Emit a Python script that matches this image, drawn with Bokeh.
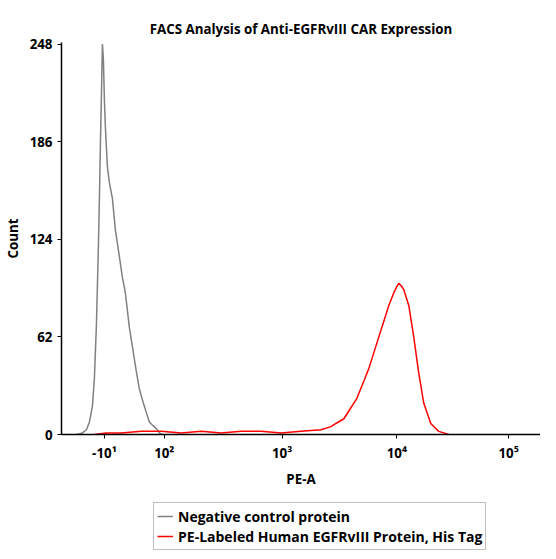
from bokeh.plotting import figure
from bokeh.layouts import column
from bokeh.models import Range1d, FixedTicker, Legend, LegendItem
from bokeh.embed import file_html
from bokeh.resources import INLINE

# x in display units (biexponential scale), y = count
tick_pos = [43, 103, 221, 336, 448]
tick_labels = ["-10\u00b9", "10\u00b2", "10\u00b3", "10\u2074", "10\u2075"]

neg_x = [15, 21, 25, 28, 31, 33, 35, 37, 38, 39, 40, 41, 42, 43, 44, 46, 48, 51, 54, 58, 61, 64, 68, 72, 75, 78, 82, 86, 88, 91, 93, 96, 98, 101]
neg_y = [0, 1, 3, 8, 18, 36, 70, 120, 150, 185, 215, 248, 238, 212, 195, 170, 160, 150, 130, 113, 100, 90, 68, 52, 40, 29, 20, 12, 8, 6, 5, 3, 1, 0]

pos_x = [33, 45, 60, 80, 100, 120, 140, 160, 180, 200, 220, 240, 260, 270, 275, 283, 290, 296, 303, 308, 313, 318, 323, 328, 333, 336, 338, 341, 343, 348, 353, 356, 358, 363, 370, 378, 388]
pos_y = [0, 1, 1, 2, 2, 1, 2, 1, 2, 2, 1, 2, 3, 5, 7, 10, 17, 23, 34, 42, 52, 62, 72, 82, 90, 94, 96, 94, 92, 82, 62, 48, 39, 20, 7, 2, 0]

legend_labels = ["Negative control protein", "PE-Labeled Human EGFRvIII Protein, His Tag"]
colors = ["#808080", "#ff0000"]

FONT = "Open Sans"

p = figure(width=540, height=490, output_backend="svg", toolbar_location=None,
           x_range=Range1d(0, 480), y_range=Range1d(0, 249),
           title="FACS Analysis of Anti-EGFRvIII CAR Expression",
           x_axis_label="PE-A", y_axis_label="Count",
           min_border_left=20, min_border_right=0, min_border_bottom=10,
           min_border_top=42)
p.title.align = "center"
p.title.text_font = FONT
p.title.text_font_size = "10pt"
p.title.text_font_style = "bold"
p.title.text_color = "black"

p.line(neg_x, neg_y, line_color=colors[0], line_width=1.5)
p.line(pos_x, pos_y, line_color=colors[1], line_width=1.5)

p.xgrid.visible = False
p.ygrid.visible = False
p.outline_line_color = None

p.xaxis.ticker = FixedTicker(ticks=tick_pos)
p.xaxis.major_label_overrides = {t: l for t, l in zip(tick_pos, tick_labels)}
p.yaxis.ticker = FixedTicker(ticks=[0, 62, 124, 186, 248])
for ax in (p.xaxis, p.yaxis):
    ax.axis_line_width = 1.5
    ax.major_label_text_font = FONT
    ax.major_label_text_font_style = "bold"
    ax.major_label_text_font_size = "10pt"
    ax.axis_label_text_font = FONT
    ax.axis_label_text_font_style = "bold"
    ax.axis_label_text_font_size = "10pt"
    ax.major_label_text_color = "black"
    ax.axis_label_text_color = "black"
    ax.major_tick_in = 0
    ax.major_tick_out = 4
p.xaxis.minor_tick_line_color = None
p.yaxis.minor_tick_line_color = None
p.yaxis.major_label_orientation = "horizontal"

# legend lives in its own small figure beneath the plot
lf = figure(width=540, height=60, output_backend="svg", toolbar_location=None,
            x_range=Range1d(0, 1), y_range=Range1d(0, 1),
            min_border=0)
lf.axis.visible = False
lf.grid.visible = False
lf.outline_line_color = None
items = []
for lab, c in zip(legend_labels, colors):
    r = lf.line([-5, -4], [-5, -4], line_color=c, line_width=1.5)
    items.append(LegendItem(label=lab, renderers=[r]))
legend = Legend(items=items, location=(92, 0), orientation="vertical",
                label_text_font=FONT, label_text_font_style="bold",
                label_text_font_size="10.5pt", label_text_color="black",
                glyph_width=16, spacing=0, padding=3, margin=0, label_height=16,
                border_line_color="#808080")
lf.add_layout(legend)

open("out.html", "w").write(file_html(column(p, lf, spacing=0), INLINE))
